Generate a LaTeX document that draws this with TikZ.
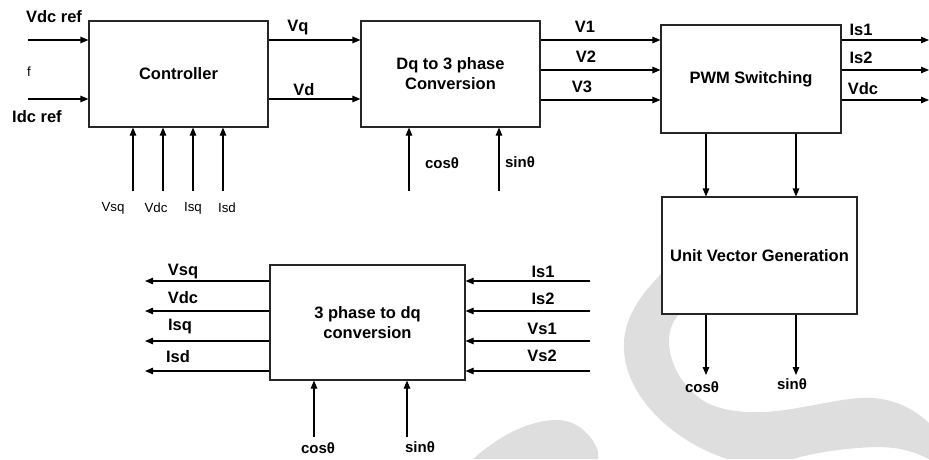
\documentclass[tikz,border=0pt]{standalone}
\usepackage{fontspec}
\setmainfont{Liberation Sans}
\usetikzlibrary{arrows.meta}
\definecolor{wm}{RGB}{222,222,222}
\begin{document}
\begin{tikzpicture}[x=1pt,y=-1pt,
  blk/.style={draw=black!85,line width=1.1pt,fill=white,rectangle,inner sep=0pt,align=center,font=\fontsize{16.5}{20}\selectfont\bfseries},
  arr/.style={line width=1.1pt,-{Triangle[length=8pt,width=6.5pt]}},
  ln/.style={line width=1.1pt},
  lab/.style={inner sep=0pt,font=\fontsize{16.5}{20}\selectfont\bfseries},
  slab/.style={inner sep=0pt,font=\fontsize{15}{18}\selectfont\bfseries},
  rlab/.style={inner sep=0pt,font=\fontsize{13.3}{16}\selectfont}]
\useasboundingbox (0,0) rectangle (929,459);
% watermark
\fill[wm] (663,272) .. controls (640,295) and (622,320) .. (624,350)
  .. controls (626,395) and (670,440) .. (727,459) -- (793,459)
  .. controls (810,454) and (840,448) .. (877,447)
  .. controls (900,447) and (915,452) .. (929,459) -- (929,423)
  .. controls (910,405) and (885,396) .. (860,398)
  .. controls (830,400) and (790,412) .. (760,412)
  .. controls (735,413) and (710,408) .. (697,396)
  .. controls (672,375) and (664,345) .. (672,325)
  .. controls (675,318) and (678,315) .. (682,312) -- cycle;
\fill[wm] (473,459) .. controls (500,435) and (530,420) .. (557,420)
  .. controls (580,420) and (595,440) .. (598,452) -- (598,459) -- cycle;
% blocks
\node[blk,minimum width=179pt,minimum height=106pt] (ctrl) at (178.5,74) {Controller};
\node[blk,minimum width=179pt,minimum height=106pt] (dq) at (450.5,74) {Dq to 3 phase\\Conversion};
\node[blk,minimum width=180pt,minimum height=108pt] (pwm) at (751,79) {PWM Switching};
\node[blk,minimum width=195pt,minimum height=117pt] (uvg) at (759.5,255.5) {Unit Vector Generation};
\node[blk,minimum width=195pt,minimum height=115pt] (tph) at (367.5,322.5) {3 phase to dq\\conversion};
% controller inputs
\coordinate (inA) at (28,40);
\coordinate (inB) at (28,99);
\draw[arr] (inA) -- (inA -| ctrl.west);
\draw[arr] (inB) -- (inB -| ctrl.west);
\node[lab] (lvdcref) at (54,17) {Vdc ref};
\node[rlab] (lf) at (29,72) {f};
\node[lab] (lidcref) at (37,117) {Idc ref};
\foreach \x/\n in {133/a,163/b,193/c,223/d}{
  \coordinate (cb\n) at (\x,191);
  \draw[arr] (cb\n) -- (cb\n |- ctrl.south);
}
\node[rlab] (lvsq1) at (113,208) {Vsq};
\node[rlab] (lvdc1) at (156,208) {Vdc};
\node[rlab] (lisq1) at (193,208) {Isq};
\node[rlab] (lisd1) at (227,208) {Isd};
% controller -> dq
\draw[arr] (ctrl.east |- inA) -- (dq.west |- inA);
\draw[arr] (ctrl.east |- inB) -- (dq.west |- inB);
\node[lab] (lvq) at (298,28) {Vq};
\node[lab] (lvd) at (304,90) {Vd};
\coordinate (dqc) at (409,191);
\coordinate (dqs) at (499,191);
\draw[arr] (dqc) -- (dqc |- dq.south);
\draw[arr] (dqs) -- (dqs |- dq.south);
\node[slab] (ldqc) at (442,163) {cosθ};
\node[slab] (ldqs) at (520,162) {sinθ};
% dq -> pwm
\coordinate (y1) at (0,40);
\coordinate (y2) at (0,70);
\coordinate (y3) at (0,100);
\draw[arr] (dq.east |- y1) -- (pwm.west |- y1);
\draw[arr] (dq.east |- y2) -- (pwm.west |- y2);
\draw[arr] (dq.east |- y3) -- (pwm.west |- y3);
\node[lab] (lv1) at (585,27) {V1};
\node[lab] (lv2) at (586,57) {V2};
\node[lab] (lv3) at (582,87) {V3};
% pwm outputs
\coordinate (o1) at (929,40);
\coordinate (o2) at (929,70);
\coordinate (o3) at (929,100);
\draw[arr] (pwm.east |- o1) -- (o1);
\draw[arr] (pwm.east |- o2) -- (o2);
\draw[arr] (pwm.east |- o3) -- (o3);
\node[lab] (lis1a) at (861,30) {Is1};
\node[lab] (lis2a) at (861,58) {Is2};
\node[lab] (lvdca) at (863,89) {Vdc};
% pwm -> uvg
\coordinate (xa) at (706,0);
\coordinate (xb) at (796,0);
\draw[arr] (pwm.south -| xa) -- (uvg.north -| xa);
\draw[arr] (pwm.south -| xb) -- (uvg.north -| xb);
% uvg outputs
\coordinate (uc) at (706,375);
\coordinate (us) at (796,375);
\draw[arr] (uvg.south -| uc) -- (uc);
\draw[arr] (uvg.south -| us) -- (us);
\node[slab] (luc) at (702,387) {cosθ};
\node[slab] (lus) at (792,384) {sinθ};
% 3 phase to dq
\foreach \y/\n in {281/a,311/b,341/c,371/d}{
  \coordinate (tl\n) at (145,\y);
  \coordinate (tr\n) at (590,\y);
  \draw[arr] (tl\n -| tph.west) -- (tl\n);
  \draw[arr] (tr\n) -- (tr\n -| tph.east);
}
\node[lab] (lvsq2) at (183,272) {Vsq};
\node[lab] (lvdc2) at (183,298) {Vdc};
\node[lab] (lisq2) at (180,327) {Isq};
\node[lab] (lisd2) at (178,357) {Isd};
\node[lab] (lis1b) at (543,272) {Is1};
\node[lab] (lis2b) at (543,299) {Is2};
\node[lab] (lvs1) at (542,329) {Vs1};
\node[lab] (lvs2) at (542,356) {Vs2};
\coordinate (tc) at (314,437);
\coordinate (ts) at (407,437);
\draw[arr] (tc) -- (tc |- tph.south);
\draw[arr] (ts) -- (ts |- tph.south);
\node[slab] (ltc) at (318,448) {cosθ};
\node[slab] (lts) at (420,447) {sinθ};
\end{tikzpicture}
\end{document}
